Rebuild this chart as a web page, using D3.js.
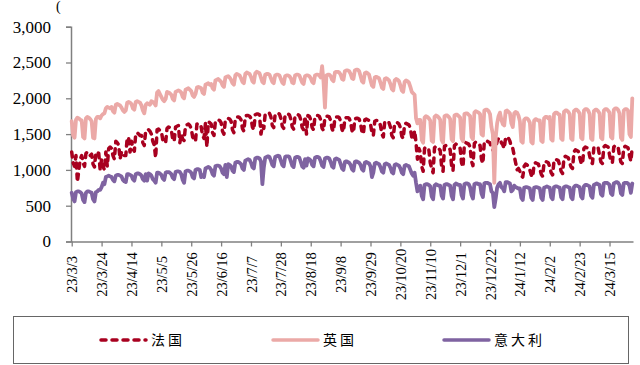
<!DOCTYPE html>
<html><head><meta charset="utf-8">
<script src="https://cdn.jsdelivr.net/npm/d3@7"></script>
<style>body{margin:0;background:#fff}svg{display:block}</style>
</head><body><svg id="c" width="640" height="365"></svg>
<script>
const startDate = "2023-03-03";
const seriesNames = ["法国", "英国", "意大利"];
const yTicks = [0, 500, 1000, 1500, 2000, 2500, 3000];
const tickLabels = ["23/3/3","23/3/24","23/4/14","23/5/5","23/5/26","23/6/16","23/7/7","23/7/28","23/8/18","23/9/8","23/9/29","23/10/20","23/11/10","23/12/1","23/12/22","24/1/12","24/2/2","24/2/23","24/3/15"];

const france = [
1250,1100,1050,1200,830,1000,1150,
1200,1100,1050,1230,1250,1240,1200,
1220,1080,1040,1250,1240,1230,1000,
1150,1050,1000,1250,1050,1300,1320,
1300,1200,1150,1400,1380,1350,1150,
1250,1250,1200,1200,1450,1450,1250,
1400,1300,1260,1500,1520,1500,1480,
1480,1380,1340,1550,1560,1560,1540,
1500,1400,1350,1170,1560,1570,1550,
1540,1420,1380,1380,1580,1600,1590,
1560,1430,1400,1600,1610,1620,1380,
1500,1430,1410,1620,1630,1640,1620,
1580,1460,1420,1400,1640,1650,1640,
1600,1480,1440,1650,1320,1670,1660,
1640,1520,1480,1680,1690,1700,1690,
1660,1540,1500,1700,1710,1720,1710,
1680,1560,1520,1720,1740,1740,1730,
1700,1580,1540,1750,1760,1760,1750,
1720,1600,1560,1770,1780,1780,1770,
1500,1620,1580,1780,1790,1800,1790,
1740,1620,1590,1780,1790,1790,1780,
1720,1610,1580,1770,1780,1780,1770,
1710,1600,1570,1760,1770,1770,1760,
1700,1590,1560,1750,1500,1760,1750,
1700,1590,1560,1750,1760,1760,1750,
1700,1580,1550,1740,1750,1750,1740,
1690,1570,1540,1730,1740,1740,1730,
1680,1560,1530,1720,1730,1730,1720,
1670,1550,1520,1710,1720,1720,1710,
1650,1530,1500,1700,1710,1700,1690,
1640,1520,1480,1680,1690,1690,1680,
1620,1500,1460,1670,1680,1680,1660,
1600,1480,1450,1650,1660,1660,1640,
1590,1470,1440,1640,1650,1640,1630,
1580,1460,1420,1550,1380,1150,1300,
1250,1050,980,1300,1320,1300,1280,
1100,1020,960,1310,1330,1320,1300,
1270,1050,980,1330,1340,1330,1320,
1280,1060,990,1340,1360,1350,1340,
1300,1100,1040,1360,1380,1370,1360,
1320,1120,1060,1370,1390,1380,1370,
1340,1150,1090,1390,1410,1400,1390,
1380,1300,1280,1250,1300,1400,1440,
1440,1380,1350,1300,1460,1450,1440,
1400,1320,1300,1200,1100,1000,1020,
980,920,900,1050,1080,1070,1050,
1000,930,900,1080,1100,1090,1080,
1020,940,910,1100,1120,1110,1100,
1040,960,930,1130,1150,1140,1130,
1060,980,950,1170,1190,1180,1170,
1100,1040,1020,1250,1280,1270,1260,
1180,1100,1080,1300,1320,1310,1300,
1200,1110,1090,1310,1330,1320,1310,
1200,1110,1090,1320,1340,1330,1320,
1210,1120,1100,1320,1340,1330,1320,
1200,1110,1090,1310,1330,1320,1310,
1200,1120,1330];

const uk = [
1680,1480,1450,1700,1730,1720,1700,
1690,1460,1440,1720,1740,1730,1710,
1680,1450,1440,1710,1740,1740,1720,
1760,1780,1790,1860,1880,1870,1860,
1880,1820,1800,1910,1920,1910,1900,
1870,1830,1810,1830,1940,1950,1940,
1920,1860,1840,1950,1960,1950,1940,
1900,1830,1790,1910,1930,1920,1910,
1960,1950,1930,1900,2080,2100,2060,
2020,1980,1960,1990,2090,2080,2070,
2050,1990,1970,2090,2100,2110,2100,
2080,2020,2000,2120,2130,2140,2120,
2100,2040,2020,2060,2150,2160,2150,
2140,2080,2060,2190,2200,2210,2190,
2200,2140,2120,2250,2260,2270,2250,
2230,2180,2160,2290,2300,2310,2290,
2260,2210,2190,2320,2340,2330,2320,
2280,2230,2210,2340,2360,2350,2340,
2300,2240,2220,2350,2370,2360,2350,
2290,2230,2210,2330,2340,2340,2330,
2280,2230,2210,2320,2330,2330,2320,
2270,2220,2200,2310,2320,2320,2310,
2280,2220,2210,2320,2330,2330,2320,
2270,2220,2200,2310,2320,2320,2310,
2280,2230,2210,2320,2330,2330,2320,
2290,2450,2230,1870,2320,2330,2330,
2310,2260,2240,2360,2370,2370,2360,
2330,2270,2260,2380,2390,2390,2380,
2340,2280,2270,2390,2400,2400,2380,
2310,2240,2220,2350,2360,2350,2330,
2250,2180,2160,2290,2300,2290,2280,
2220,2150,2130,2270,2280,2270,2250,
2200,2130,2110,2250,2270,2260,2240,
2180,2110,2090,2230,2250,2240,2220,
2160,2090,2070,2050,1720,1650,1700,
1700,1420,1380,1730,1750,1740,1720,
1690,1410,1390,1740,1760,1750,1730,
1700,1420,1380,1750,1760,1760,1740,
1710,1430,1400,1760,1770,1770,1750,
1730,1440,1400,1780,1790,1790,1770,
1750,1460,1430,1800,1820,1810,1800,
1780,1500,1480,1830,1840,1840,1820,
1780,1600,1500,820,1450,1650,1750,
1800,1700,1640,1620,1820,1830,1810,
1790,1650,1600,1790,1810,1800,1760,
1680,1400,1380,1700,1720,1720,1700,
1660,1390,1370,1690,1710,1700,1690,
1690,1410,1390,1720,1740,1740,1720,
1740,1430,1410,1780,1800,1800,1780,
1770,1440,1420,1810,1830,1830,1810,
1780,1440,1420,1820,1840,1840,1820,
1790,1450,1430,1830,1850,1850,1830,
1780,1440,1420,1820,1840,1840,1820,
1790,1450,1430,1830,1850,1850,1830,
1800,1460,1440,1840,1860,1860,1840,
1790,1450,1420,1830,1850,1850,1830,
1500,1460,2000];

const italy = [
680,600,560,690,700,700,690,
670,580,550,680,700,700,690,
680,590,560,690,700,720,720,
760,820,800,900,910,920,910,
900,860,840,920,930,930,920,
910,860,840,830,940,940,930,
920,870,850,940,950,950,940,
920,870,850,940,850,950,940,
920,870,850,820,960,960,950,
930,880,860,960,970,970,960,
940,890,870,970,980,980,970,
940,860,820,980,990,990,980,
960,900,880,1000,1010,1010,1000,
900,920,900,1020,1030,1040,1030,
1000,940,920,1050,1060,1060,1050,
1020,960,940,1070,900,1080,1070,
1050,990,970,1100,1110,1110,1100,
1080,1020,1000,1130,1140,1150,1140,
1100,1040,1020,1160,1170,1170,1160,
1120,800,1030,1170,1180,1190,1180,
1130,1070,1050,1180,1190,1200,1190,
1130,1070,1050,1180,1190,1190,1180,
1120,1060,1040,1170,1180,1180,1170,
1110,1050,1030,1150,1060,1160,1150,
1130,1070,1050,1170,1180,1180,1170,
1120,1060,1040,1160,1170,1170,1160,
1110,1050,1030,1150,1160,1150,1140,
1080,1020,1000,1110,1120,1110,1100,
1070,1010,990,1110,1120,1110,1100,
1070,1010,990,1100,1110,1100,1090,
1050,900,960,1090,1100,1090,1080,
1040,980,960,1080,1090,1080,1070,
1030,970,950,1070,1080,1070,1060,
1020,960,940,1060,1070,1060,1050,
1000,950,920,960,820,700,760,
780,640,590,790,800,800,790,
770,630,590,780,800,790,780,
780,640,600,790,800,800,790,
780,640,590,790,810,800,790,
790,650,600,800,810,810,800,
760,650,600,800,810,810,800,
800,670,620,810,820,820,810,
800,700,680,480,600,750,800,
820,760,740,700,830,830,820,
810,700,720,780,760,750,740,
740,610,580,750,760,760,750,
740,610,580,750,760,760,750,
740,610,580,750,760,770,760,
750,620,590,760,770,770,760,
750,620,590,760,770,770,760,
750,620,590,760,780,780,770,
760,630,600,770,790,790,780,
770,640,610,790,800,810,800,
790,660,640,810,820,820,810,
790,670,650,810,820,830,820,
790,670,650,810,820,820,810,
780,680,810];

const colors = ["#A8001F", "#EBA9A7", "#7F63A1"];
const SERIF = "'Liberation Serif','Times New Roman',Times,serif";
const CJK = "'Noto Sans CJK SC','Noto Sans CJK JP',sans-serif";

const fmt = d3.timeFormat("%y/%-m/%-d");
const start = d3.timeParse("%Y-%m-%d")(startDate);
const dates = uk.map((_, i) => fmt(d3.timeDay.offset(start, i)));

const svg = d3.select("#c");
const x = d3.scalePoint().domain(dates).range([71, 633]).padding(0.5);
const y = d3.scaleLinear().domain([0, 3000]).range([241.5, 26.7]);

// y axis
const ya = svg.append("g").attr("transform", "translate(71,0)")
  .call(d3.axisLeft(y).tickValues(yTicks).tickSize(5).tickPadding(15).tickFormat(d3.format(",")));
ya.attr("font-family", SERIF).attr("font-size", 17);
ya.select(".domain").attr("stroke", "#808080").attr("stroke-width", 1.5);
ya.selectAll(".tick line").attr("stroke", "#808080").attr("stroke-width", 1.3);
ya.selectAll("text").style("font-family", SERIF).style("font-size", "17px").attr("fill", "#000");

// x axis
const xa = svg.append("g").attr("transform", "translate(0,241.5)")
  .call(d3.axisBottom(x).tickValues(tickLabels.filter(t => dates.includes(t))).tickSize(5).tickSizeOuter(0));
xa.attr("font-family", SERIF).attr("font-size", 14.5);
xa.select(".domain").attr("stroke", "#808080").attr("stroke-width", 1.5);
xa.selectAll(".tick line").attr("stroke", "#808080").attr("stroke-width", 1.3);
xa.selectAll("text")
  .style("font-family", SERIF).style("font-size", "14.5px").attr("fill", "#000")
  .attr("y", 0).attr("dy", "0.35em").attr("x", 0)
  .attr("text-anchor", "middle")
  .attr("transform", "translate(0,33) rotate(-90)");

svg.append("text").style("font-family", SERIF).attr("x", 56).attr("y", 11).style("font-size", "14px").text("(");

const line = d3.line().x((d, i) => x(dates[i])).y(d => y(d));
const data = [france, uk, italy];
data.forEach((s, k) => {
  svg.append("path").datum(s)
    .attr("d", line)
    .attr("fill", "none")
    .attr("stroke", colors[k])
    .attr("stroke-width", k === 0 ? 3.5 : 3.8)
    .attr("stroke-linejoin", "round")
    .attr("stroke-linecap", "round")
    .attr("stroke-dasharray", k === 0 ? "5,6" : null);
});

// legend
svg.append("rect").attr("x", 13.5).attr("y", 316.5).attr("width", 615).attr("height", 47)
  .attr("fill", "none").attr("stroke", "#666").attr("stroke-width", 1);
const legX = [101, 273, 444];
seriesNames.forEach((n, k) => {
  const g = svg.append("g").attr("transform", `translate(${legX[k]},340)`);
  g.append("line").attr("x1", 0).attr("x2", 45).attr("y1", 0).attr("y2", 0)
    .attr("stroke", colors[k]).attr("stroke-width", 3.5)
    .attr("stroke-linecap", "round")
    .attr("stroke-dasharray", k === 0 ? "5,6" : null);
  g.append("text").attr("x", 50).attr("y", 0).attr("dy", "0.35em")
    .style("font-family", CJK).style("font-size", "14px")
    .attr("letter-spacing", 3).attr("fill", "#000").text(n);
});
</script>
</body></html>
